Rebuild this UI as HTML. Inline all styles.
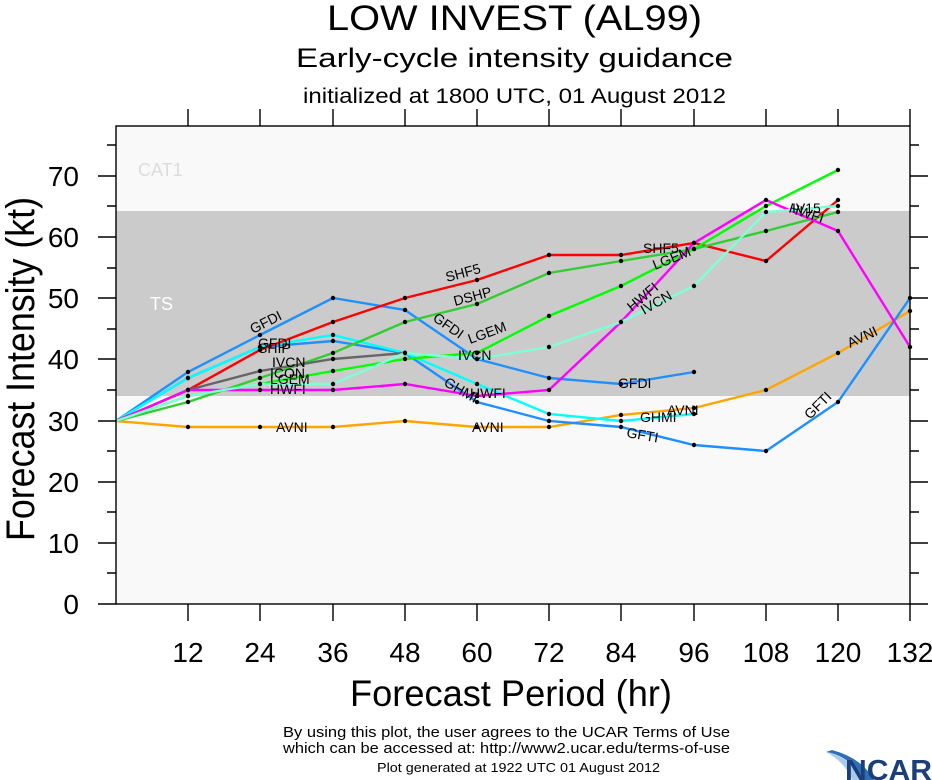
<!DOCTYPE html>
<html><head><meta charset="utf-8"><style>
body{margin:0;background:#fff;}
svg{display:block;font-family:"Liberation Sans",sans-serif;}
</style></head><body>
<svg width="932" height="780" viewBox="0 0 932 780" xmlns="http://www.w3.org/2000/svg">
<defs><marker id="d" markerUnits="userSpaceOnUse" markerWidth="6" markerHeight="6" refX="3" refY="3"><circle cx="3" cy="3" r="2.2" fill="#000"/></marker></defs>
<text x="327" y="30" font-size="35" textLength="375" lengthAdjust="spacingAndGlyphs">LOW INVEST (AL99)</text>
<text x="296" y="67" font-size="27" textLength="437" lengthAdjust="spacingAndGlyphs">Early-cycle intensity guidance</text>
<text x="303" y="103" font-size="21" textLength="423" lengthAdjust="spacingAndGlyphs">initialized at 1800 UTC, 01 August 2012</text>
<rect x="116" y="126" width="794" height="478" fill="#f9f9f9"/>
<rect x="116" y="211" width="794" height="185" fill="#cbcbcb"/>
<text x="138" y="176" font-size="18" fill="#dcdcdc">CAT1</text>
<text x="150" y="310" font-size="18" fill="#fff">TS</text>
<g fill="none" stroke-width="2.4" marker-mid="url(#d)" marker-end="url(#d)">
<polyline stroke="#ffa500" points="116,421 188,427 260,427 333,427 405,421 477,427 549,427 621,415 694,408 766,390 838,353 910,311"/>
<polyline stroke="#1e90ff" points="116,421 188,372 260,335 333,298 405,310 477,359 549,378 621,384 694,372"/>
<polyline stroke="#1e90ff" points="116,421 188,378 260,347 333,341 405,353 477,402 549,421 621,427 694,445 766,451 838,402 910,298"/>
<polyline stroke="#00ffff" points="116,421 188,378 260,347 333,335 405,353 477,384 549,414 621,421 694,414"/>
<polyline stroke="#ff0000" points="116,421 188,390 260,350 333,322 405,298 477,280 549,255 621,255 694,243 766,261 838,200"/>
<polyline stroke="#32cd32" points="116,421 188,402 260,378 333,353 405,322 477,304 549,273 621,261 694,249 766,231 838,212"/>
<polyline stroke="#00ff00" points="116,421 188,396 260,384 333,371 405,359 477,353 549,316 621,286 694,249 766,206 838,170"/>
<polyline stroke="#666666" points="116,421 188,390 260,371 333,359 405,353"/>
<polyline stroke="#ff00ff" points="116,421 188,390 260,390 333,390 405,384 477,396 549,390 621,322 694,243 766,200 838,231 910,347"/>
<polyline stroke="#7fffd4" points="116,421 188,396 260,384 333,384 405,353 477,359 549,347 621,322 694,286 766,212 838,206"/>
</g>
<g font-size="14" fill="#000">
<text x="276" y="432">AVNI</text><text x="472" y="432">AVNI</text><text x="667" y="415">AVNI</text>
<text x="850" y="348" transform="rotate(-25 850 348)">AVNI</text>
<text x="253" y="334" transform="rotate(-27 253 334)">GFDI</text>
<text x="432" y="320" transform="rotate(35 432 320)">GFDI</text>
<text x="618" y="388">GFDI</text>
<text x="626" y="437" transform="rotate(10 626 437)">GFTI</text>
<text x="810" y="420" transform="rotate(-45 810 420)">GFTI</text>
<text x="640" y="422">GHMI</text>
<text x="443" y="385" transform="rotate(30 443 385)">GHMI</text>
<text x="258" y="348">GFDI</text><text x="258" y="353">SHIP</text>
<text x="447" y="282" transform="rotate(-15 447 282)">SHF5</text>
<text x="643" y="253">SHF5</text>
<text x="455" y="306" transform="rotate(-15 455 306)">DSHP</text>
<text x="470" y="344" transform="rotate(-20 470 344)">LGEM</text>
<text x="655" y="270" transform="rotate(-22 655 270)">LGEM</text>
<text x="270" y="378">ICON</text><text x="272" y="367">IVCN</text>
<text x="270" y="384">LGEM</text><text x="270" y="394">HWFI</text>
<text x="458" y="360">IVCN</text>
<text x="470" y="398">HWFI</text>
<text x="632" y="312" transform="rotate(-40 632 312)">HWFI</text>
<text x="644" y="315" transform="rotate(-30 644 315)">IVCN</text>
<text x="788" y="212" transform="rotate(18 788 212)">HWFI</text>
<text x="792" y="213">IV15</text>
</g>
<rect x="116" y="126" width="794" height="478" fill="none" stroke="#000" stroke-width="1.4"/>
<g stroke="#000" stroke-width="1.4">
<path d="M116,604h-18M116,543h-18M116,482h-18M116,421h-18M116,359h-18M116,298h-18M116,237h-18M116,176h-18"/>
<path d="M116,573h-9M116,512h-9M116,451h-9M116,390h-9M116,329h-9M116,268h-9M116,206h-9M116,145h-9"/>
<path d="M910,604h18M910,543h18M910,482h18M910,421h18M910,359h18M910,298h18M910,237h18M910,176h18"/>
<path d="M910,573h9M910,512h9M910,451h9M910,390h9M910,329h9M910,268h9M910,206h9M910,145h9"/>
<path d="M188,604v17M260,604v17M333,604v17M405,604v17M477,604v17M549,604v17M621,604v17M694,604v17M766,604v17M838,604v17M910,604v17"/>
<path d="M188,126v-17M260,126v-17M333,126v-17M405,126v-17M477,126v-17M549,126v-17M621,126v-17M694,126v-17M766,126v-17M838,126v-17M910,126v-17"/>
</g>
<g font-size="28" text-anchor="end">
<text x="79" y="614">0</text><text x="79" y="553">10</text><text x="79" y="492">20</text><text x="79" y="431">30</text>
<text x="79" y="369">40</text><text x="79" y="308">50</text><text x="79" y="247">60</text><text x="79" y="186">70</text>
</g>
<g font-size="28" text-anchor="middle">
<text x="188" y="662">12</text><text x="260" y="662">24</text><text x="333" y="662">36</text><text x="405" y="662">48</text>
<text x="477" y="662">60</text><text x="549" y="662">72</text><text x="621" y="662">84</text><text x="694" y="662">96</text>
<text x="766" y="662">108</text><text x="838" y="662">120</text><text x="910" y="662">132</text>
</g>
<text x="350" y="706" font-size="37" textLength="322" lengthAdjust="spacingAndGlyphs">Forecast Period (hr)</text>
<text transform="translate(34,541) rotate(-90)" font-size="40" textLength="344" lengthAdjust="spacingAndGlyphs">Forecast Intensity (kt)</text>
<g font-size="15">
<text x="283" y="737" textLength="447" lengthAdjust="spacingAndGlyphs">By using this plot, the user agrees to the UCAR Terms of Use</text>
<text x="283" y="753" textLength="447" lengthAdjust="spacingAndGlyphs">which can be accessed at: http://www2.ucar.edu/terms-of-use</text>
<text x="377" y="772" font-size="13" textLength="283" lengthAdjust="spacingAndGlyphs">Plot generated at 1922 UTC   01 August 2012</text>
</g>
<path d="M826,752 Q850,756 864,780 L874,780 Q862,758 832,750Z" fill="#2f6fb5"/>
<path d="M826,752 Q845,762 852,780 L864,780 Q852,758 826,752Z" fill="#a9cbe9"/>
<text x="845" y="780" font-size="29" font-weight="bold" fill="#1a3f7a" textLength="87" lengthAdjust="spacingAndGlyphs">NCAR</text>
</svg>
</body></html>
